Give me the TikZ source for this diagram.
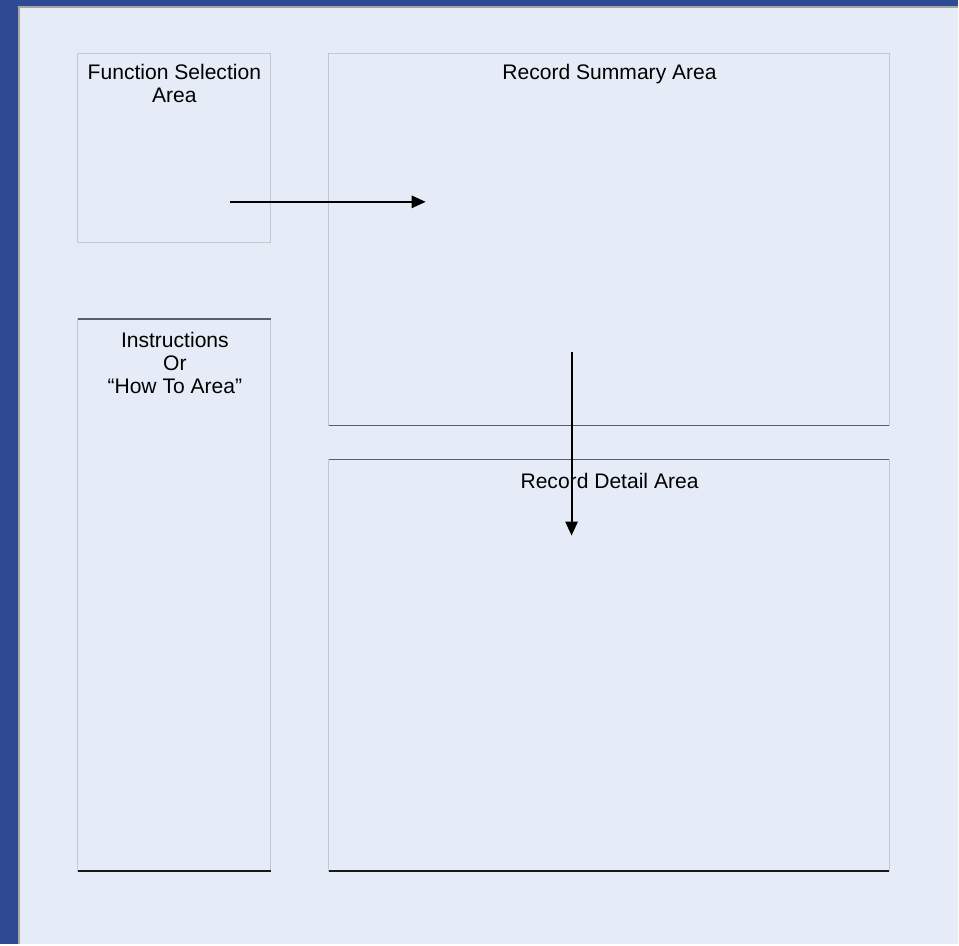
\documentclass[tikz,border=0pt]{standalone}
\usepackage{fontspec}
\setmainfont{Liberation Sans}
\usetikzlibrary{arrows.meta}
\definecolor{pagebg}{HTML}{E6ECF7}
\definecolor{frameblue}{HTML}{2E4A93}
\definecolor{boxgray}{HTML}{C3C7CF}
\definecolor{edgegray}{HTML}{5A5E66}
\tikzset{
  arealine/.style={draw=boxgray,line width=0.6pt},
  darkedge/.style={draw=edgegray,line width=0.9pt},
  baseedge/.style={draw=black!90,line width=1.1pt},
  areatext/.style={anchor=north,inner sep=0pt,align=center,
    font=\fontsize{12}{13}\selectfont},
  flow/.style={line width=1.1pt,-{Triangle[length=8pt,width=7pt]}}
}
\begin{document}
\begin{tikzpicture}[x=0.02cm,y=-0.02cm]
    \fill[pagebg] (0,0) rectangle (959,945);
    \fill[frameblue] (0,0) rectangle (959,6);
    \fill[frameblue] (0,0) rectangle (18,945);
    \draw[gray!70,line width=0.8pt] (19,945) -- (19,7) -- (959,7);
    % the four areas
    \draw[arealine] (78,54) rectangle (271,243);
    \draw[arealine] (329,54) rectangle (890,426);
    \draw[arealine] (78,319) rectangle (271,872);
    \draw[arealine] (329,460) rectangle (890,872);
    \draw[darkedge] (329,426) -- (890,426);
    \draw[darkedge] (329,460) -- (890,460);
    \draw[darkedge] (78,319) -- (271,319);
    \draw[baseedge] (78,872) -- (271,872);
    \draw[baseedge] (329,872) -- (890,872);
    % labels
    \node[areatext] (fsa) at (174.5,64) {Function Selection\\Area};
    \node[areatext] (rsa) at (610,64) {Record Summary Area};
    \node[areatext] (ins) at (175,332) {Instructions\\Or\\``How To Area''};
    \node[areatext] (rda) at (610,473) {Record Detail Area};
    % flow between areas
    \coordinate (fsa-out) at (230,202);
    \coordinate (rsa-in) at (426,202);
    \coordinate (rsa-out) at (572,352);
    \coordinate (rda-in) at (572,536);
    \draw[flow] (fsa-out) -- (rsa-in);
    \draw[flow] (rsa-out) -- (rda-in);
\end{tikzpicture}
\end{document}
